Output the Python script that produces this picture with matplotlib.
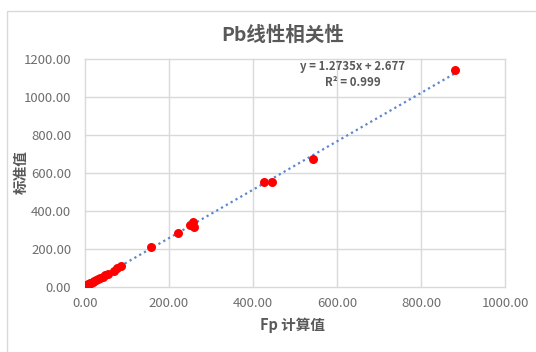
import matplotlib
matplotlib.use("Agg")
import matplotlib.pyplot as plt
from matplotlib.patches import Rectangle
import numpy as np

plt.rcParams['font.family'] = ['Noto Sans CJK SC', 'DejaVu Sans']

# data
fp_calc = [3, 6, 9, 12, 15, 18, 22, 26, 30, 36, 42, 48, 55, 68, 76, 86,
           157, 222, 250, 258, 260, 427, 445, 543, 880]
std_val = [10, 14, 18, 22, 20, 28, 30, 36, 40, 46, 55, 62, 70, 85, 98, 108,
           210, 282, 326, 340, 316, 553, 553, 675, 1140]
slope, intercept = 1.2735, 2.677
eq_text = "y = 1.2735x + 2.677\nR² = 0.999"

xticks = [0, 200, 400, 600, 800, 1000]
yticks = [0, 200, 400, 600, 800, 1000, 1200]

grey = '#595959'

fig = plt.figure(figsize=(5.36, 3.52), dpi=100)
ax = fig.add_axes([0.1586, 0.1847, 0.7836, 0.6477])

# outer chart border
fig.patches.append(Rectangle((7/536, -0.1), 1.2, 1 - 11/352 + 0.1,
                             transform=fig.transFigure, fill=False,
                             edgecolor='#D9D9D9', linewidth=1.0))

xs = np.array([min(fp_calc), max(fp_calc)])
ax.plot(xs, slope*xs + intercept, linestyle=(0, (1, 1.5)), color='#5B87D0',
        linewidth=1.6, zorder=2)
ax.scatter(fp_calc, std_val, s=42, color='#FF0000', zorder=3, linewidths=0)

ax.set_xlim(0, 1000)
ax.set_ylim(0, 1200)
ax.set_xticks(xticks)
ax.set_yticks(yticks)
ax.set_xticklabels(['%.2f' % v for v in xticks])
ax.set_yticklabels(['%.2f' % v for v in yticks])
ax.tick_params(length=0, labelsize=9.5, colors='#6E6E6E')
ax.tick_params(axis='y', pad=10)
ax.tick_params(axis='x', pad=7)
ax.grid(True, color='#D9D9D9', linewidth=1.0)
for gl in ax.get_xgridlines() + ax.get_ygridlines():
    gl.set_clip_on(False)
ax.set_axisbelow(True)
for s in ax.spines.values():
    s.set_visible(False)

fig.text(292/536, 1 - 325/352, 'Fp 计算值', ha='center', va='center',
         fontsize=10.5, fontweight='bold', color=grey)
fig.text(21/536, 1 - 172/352, '标准值', ha='center', va='center',
         rotation=90, fontsize=10.5, fontweight='bold', color=grey)
fig.text(283/536, 1 - 35/352, 'Pb线性相关性', ha='center', va='center',
         fontsize=14, fontweight='bold', color=grey)
ax.text(0.638, 0.995, eq_text, transform=ax.transAxes, ha='center', va='top',
        fontsize=8.2, fontweight='bold', color=grey, linespacing=1.25)

fig.savefig('out.png', dpi=100)
